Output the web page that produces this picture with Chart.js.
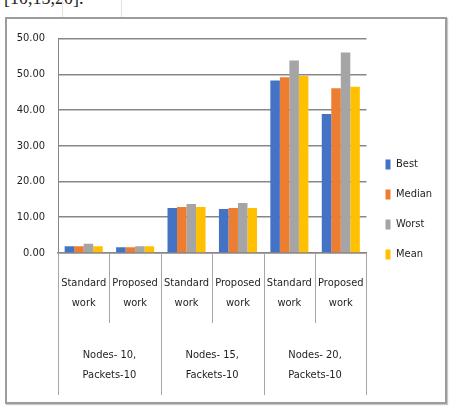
<!DOCTYPE html>
<html>
<head>
<meta charset="utf-8">
<script src="https://cdn.jsdelivr.net/npm/chart.js@4"></script>
<style>
  html, body { margin: 0; padding: 0; background: #fff; }
  body { width: 455px; height: 406px; position: relative; overflow: hidden; }
  .cite { position: absolute; left: 4px; top: -12px; font: 18px "Liberation Serif", serif; color: #222; }
  .rule { position: absolute; background: #e2e2e2; }
  .frame { position: absolute; left: 5px; top: 17px; width: 438px; height: 383px;
           border: 2px solid #9c9c9c; background: #fff; box-shadow: 1px 1px 1px #c8c8c8; }
  canvas { display: block; }
</style>
</head>
<body>
<div class="cite">[10,15,20].</div>
<div class="rule" style="left:62px;top:0;width:1px;height:17px"></div>
<div class="rule" style="left:121px;top:0;width:1px;height:17px"></div>
<div class="frame"><canvas id="c" width="438" height="383"></canvas></div>
<script>
const works = [["Standard", "work"], ["Proposed", "work"], ["Standard", "work"], ["Proposed", "work"], ["Standard", "work"], ["Proposed", "work"]];
const groups = [["Nodes- 10,", "Packets-10"], ["Nodes- 15,", "Fackets-10"], ["Nodes- 20,", "Packets-10"]];
const best   = [1.9, 1.6, 12.6, 12.3, 48.3, 38.9];
const median = [1.9, 1.6, 12.9, 12.6, 49.2, 46.1];
const worst  = [2.6, 1.9, 13.7, 14.0, 53.9, 56.1];
const mean   = [1.9, 1.9, 12.9, 12.6, 49.5, 46.5];
const yTickLabels = ["0.00", "10.00", "20.00", "30.00", "40.00", "50.00", "50.00"];

const font = { family: "'DejaVu Sans Condensed', 'Liberation Sans Narrow', sans-serif", size: 11 };
const ink = "#1e1e1e";
const gridGrey = "#878787";

// divider lines under the category axis (short between works, long between groups)
const dividers = {
  id: "dividers",
  afterDraw(chart) {
    const x = chart.scales.x, area = chart.chartArea, ctx = chart.ctx;
    const step = x.getPixelForValue(1) - x.getPixelForValue(0);
    ctx.save();
    ctx.strokeStyle = "#a6a6a6";
    ctx.lineWidth = 1;
    for (let i = 0; i <= works.length; i++) {
      const px = Math.round(x.getPixelForValue(0) - step / 2 + i * step) + 0.5;
      const len = i % 2 === 0 ? 142 : 70;
      ctx.beginPath();
      ctx.moveTo(px, area.bottom);
      ctx.lineTo(px, area.bottom + len);
      ctx.stroke();
    }
    ctx.restore();
  }
};

new Chart(document.getElementById("c"), {
  type: "bar",
  data: {
    labels: works,
    datasets: [
      { label: "Best", data: best, backgroundColor: "#4472C4" },
      { label: "Median", data: median, backgroundColor: "#ED7D31" },
      { label: "Worst", data: worst, backgroundColor: "#A5A5A5" },
      { label: "Mean", data: mean, backgroundColor: "#FFC000" }
    ]
  },
  options: {
    responsive: false,
    animation: false,
    categoryPercentage: 0.74,
    barPercentage: 1.0,
    layout: { padding: { top: 18, right: 3, bottom: 20, left: 0 } },
    plugins: {
      tooltip: { enabled: false },
      legend: {
        position: "right",
        labels: { font: font, color: ink, boxWidth: 5, boxHeight: 10, padding: 19 }
      }
    },
    scales: {
      y: {
        min: 0, max: 60,
        ticks: { stepSize: 10, padding: 13, font: font, color: ink,
                 callback: (v) => yTickLabels[v / 10] },
        grid: { color: gridGrey, lineWidth: 1.6, drawTicks: false },
        border: { display: true, color: gridGrey, width: 1 },
        afterFit(s) { s.width = 51; }
      },
      x: {
        ticks: { font: { ...font, lineHeight: 1.8 }, color: ink, padding: 20, maxRotation: 0, autoSkip: false },
        grid: { display: false, drawTicks: false },
        border: { display: true, color: gridGrey, width: 1.6 },
        afterFit(s) { s.height = 70; }
      },
      x2: {
        type: "category",
        labels: groups,
        position: "bottom",
        offset: true,
        ticks: { font: { ...font, lineHeight: 1.8 }, color: ink, padding: 22, maxRotation: 0, autoSkip: false },
        grid: { display: false, drawTicks: false },
        border: { display: false },
        afterFit(s) { s.height = 59; }
      }
    }
  },
  plugins: [dividers]
});
</script>
</body>
</html>
